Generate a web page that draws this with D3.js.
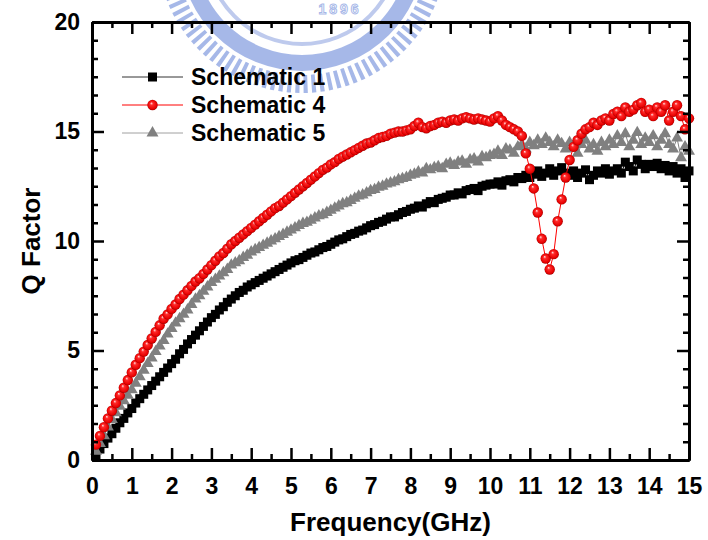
<!DOCTYPE html>
<html>
<head>
<meta charset="utf-8">
<script src="https://cdn.jsdelivr.net/npm/d3@7"></script>
<style>
  html, body { margin: 0; padding: 0; background: #fff; }
  text { font-family: "Liberation Sans", Arial, sans-serif; font-weight: bold; }
</style>
</head>
<body>
<div id="chart"></div>
<script>
// Frequency sweep: 0.1 GHz to 15 GHz, one point every 0.1 GHz.
const freqStart = 0.1;
const freqStep = 0.1;

// Schematic 1 (black squares).
const schematic1 = [
  0.25, 0.5, 0.75, 1.0, 1.2, 1.45, 1.7, 1.9, 2.15, 2.35,
  2.6, 2.8, 3.0, 3.2, 3.4, 3.6, 3.8, 4.0, 4.2, 4.4,
  4.6, 4.85, 5.05, 5.3, 5.5, 5.7, 5.9, 6.1, 6.3, 6.5,
  6.65, 6.85, 7.0, 7.2, 7.35, 7.5, 7.65, 7.75, 7.9, 8.0,
  8.1, 8.2, 8.3, 8.4, 8.5, 8.6, 8.7, 8.8, 8.9, 9.0,
  9.1, 9.15, 9.25, 9.35, 9.45, 9.5, 9.6, 9.7, 9.75, 9.85,
  9.95, 10.05, 10.1, 10.2, 10.3, 10.35, 10.45, 10.5, 10.6, 10.7,
  10.75, 10.85, 10.9, 11.0, 11.1, 11.1, 11.2, 11.3, 11.35, 11.45,
  11.5, 11.6, 11.55, 11.7, 11.8, 11.75, 11.9, 11.95, 12.0, 12.1,
  12.1, 12.2, 12.15, 12.3, 12.35, 12.4, 12.3, 12.5, 12.55, 12.6,
  12.6, 12.7, 12.55, 12.75, 12.8, 12.7, 12.9, 12.85, 13.0, 12.9,
  13.05, 13.2, 12.95, 13.1, 13.3, 13.0, 13.2, 13.35, 13.1, 13.0,
  13.2, 12.9, 13.1, 13.25, 12.8, 13.0, 13.2, 13.1, 13.3, 13.05,
  13.2, 13.3, 13.1, 13.6, 13.4, 13.2, 13.7, 13.5, 13.3, 13.5,
  13.4, 13.55, 13.3, 13.45, 13.2, 13.4, 13.1, 13.3, 12.9, 13.2
];

// Schematic 4 (red balls), with the notch near 11.5 GHz.
const schematic4 = [
  0.7, 1.1, 1.5, 1.9, 2.25, 2.6, 2.95, 3.3, 3.65, 4.0,
  4.35, 4.65, 4.95, 5.25, 5.55, 5.85, 6.15, 6.45, 6.65, 6.9,
  7.1, 7.35, 7.55, 7.75, 7.95, 8.15, 8.3, 8.5, 8.7, 8.9,
  9.1, 9.3, 9.45, 9.65, 9.85, 10.0, 10.15, 10.3, 10.45, 10.6,
  10.75, 10.9, 11.05, 11.2, 11.35, 11.5, 11.6, 11.75, 11.9, 12.05,
  12.2, 12.35, 12.5, 12.65, 12.8, 12.95, 13.1, 13.25, 13.35, 13.5,
  13.6, 13.75, 13.85, 13.95, 14.05, 14.15, 14.25, 14.35, 14.45, 14.5,
  14.6, 14.7, 14.75, 14.8, 14.9, 14.95, 15.0, 15.0, 15.05, 15.1,
  15.25, 15.4, 15.2, 15.15, 15.25, 15.3, 15.4, 15.45, 15.4, 15.5,
  15.55, 15.5, 15.6, 15.65, 15.6, 15.55, 15.6, 15.55, 15.5, 15.45,
  15.6, 15.7, 15.5, 15.3, 15.2, 15.1, 15.0, 14.8, 14.0, 13.3,
  12.4, 11.3, 10.1, 9.2, 8.7, 9.4, 10.9, 11.9, 12.9, 13.7,
  14.3, 14.6, 14.9, 15.1, 15.2, 15.4, 15.3, 15.5, 15.6, 15.5,
  15.8, 15.9, 15.7, 16.1, 15.9, 16.0, 16.2, 16.3, 15.9, 16.0,
  15.7, 16.1, 15.9, 16.2, 15.5, 15.9, 16.2, 15.7, 15.1, 15.6
];

// Schematic 5 (gray triangles).
const schematic5 = [
  0.4, 0.75, 1.1, 1.5, 1.85, 2.15, 2.45, 2.7, 2.95, 3.2,
  3.5, 3.8, 4.1, 4.4, 4.65, 4.95, 5.2, 5.45, 5.75, 6.0,
  6.25, 6.45, 6.65, 6.85, 7.1, 7.35, 7.5, 7.7, 7.9, 8.1,
  8.25, 8.4, 8.55, 8.7, 8.9, 9.0, 9.1, 9.25, 9.35, 9.5,
  9.6, 9.7, 9.8, 9.9, 10.0, 10.1, 10.2, 10.3, 10.4, 10.5,
  10.6, 10.7, 10.8, 10.85, 10.95, 11.05, 11.15, 11.2, 11.3, 11.4,
  11.5, 11.6, 11.7, 11.75, 11.85, 11.95, 12.05, 12.1, 12.2, 12.3,
  12.35, 12.45, 12.5, 12.6, 12.65, 12.7, 12.8, 12.85, 12.9, 13.0,
  13.05, 13.15, 13.1, 13.3, 13.25, 13.35, 13.4, 13.3, 13.5, 13.55,
  13.45, 13.6, 13.65, 13.5, 13.7, 13.75, 13.6, 13.85, 13.8, 13.9,
  13.95, 14.1, 13.9, 14.2, 14.15, 14.0, 14.3, 14.4, 14.2, 14.5,
  14.35, 14.6, 14.4, 14.7, 14.5, 14.3, 14.6, 14.45, 14.2, 14.5,
  14.3, 14.0, 14.4, 14.6, 14.2, 14.4, 14.1, 14.5, 14.3, 14.6,
  14.4, 14.8, 14.5, 14.9, 14.3, 14.6, 14.95, 14.4, 14.7, 14.5,
  14.8, 14.3, 14.6, 14.9, 14.4, 14.2, 14.7, 13.8, 14.3, 14.1
];

const seriesNames = ["Schematic 1", "Schematic 4", "Schematic 5"];
const xTicks = d3.range(0, 16, 1);
const yTicks = [0, 5, 10, 15, 20];

// Chart size and margins.
const totalWidth = 708, totalHeight = 540;
const margin = { top: 22, right: 19, bottom: 80, left: 92 };
const width = totalWidth - margin.left - margin.right;
const height = totalHeight - margin.top - margin.bottom;

const root = d3.select("#chart").append("svg")
  .attr("width", totalWidth)
  .attr("height", totalHeight);

// Shaded ball used for the red markers.
const grad = root.append("defs").append("radialGradient")
  .attr("id", "ball")
  .attr("cx", "50%").attr("cy", "50%").attr("r", "50%")
  .attr("fx", "38%").attr("fy", "32%");
grad.append("stop").attr("offset", "0%").attr("stop-color", "#ffe6e6");
grad.append("stop").attr("offset", "30%").attr("stop-color", "#ff2a2a");
grad.append("stop").attr("offset", "85%").attr("stop-color", "#e60000");
grad.append("stop").attr("offset", "100%").attr("stop-color", "#a00000");

// Faint seal watermark at the top.
const seal = root.append("g").attr("opacity", 0.55);
seal.append("circle")
  .attr("cx", 302).attr("cy", -52).attr("r", 136)
  .attr("fill", "none")
  .attr("stroke", "#5f7fd6")
  .attr("stroke-width", 18)
  .attr("stroke-dasharray", "4 4");
seal.append("circle")
  .attr("cx", 302).attr("cy", -52).attr("r", 115)
  .attr("fill", "none")
  .attr("stroke", "#5f7fd6")
  .attr("stroke-width", 16);
seal.append("circle")
  .attr("cx", 302).attr("cy", -52).attr("r", 96)
  .attr("fill", "none")
  .attr("stroke", "#8aa0e0")
  .attr("stroke-width", 4);
seal.append("text")
  .attr("x", 340).attr("y", 14)
  .attr("text-anchor", "middle")
  .style("font-size", "14px")
  .style("letter-spacing", "3px")
  .attr("fill", "#ffffff")
  .attr("stroke", "#5f7fd6")
  .attr("stroke-width", 1)
  .text("1896");

const svg = root.append("g")
  .attr("transform", `translate(${margin.left}, ${margin.top})`);

// Scales.
const x = d3.scaleLinear().domain([0, 15]).range([0, width]);
const y = d3.scaleLinear().domain([0, 20]).range([height, 0]);

const freq = schematic1.map((d, i) => +(freqStart + i * freqStep).toFixed(2));
const rows = (vals) => vals.map((v, i) => ({ f: freq[i], q: v }));

const line = d3.line().x(d => x(d.f)).y(d => y(d.q));

// Series: black squares, gray triangles, then red balls on top.
const s1 = rows(schematic1), s4 = rows(schematic4), s5 = rows(schematic5);

svg.append("path").datum(s1)
  .attr("d", line).attr("fill", "none").attr("stroke", "#000").attr("stroke-width", 1);
svg.append("g").selectAll("rect")
  .data(s1).enter().append("rect")
  .attr("x", d => x(d.f) - 4.5)
  .attr("y", d => y(d.q) - 4.5)
  .attr("width", 9).attr("height", 9)
  .attr("fill", "#000");

const tri = d3.symbol().type(d3.symbolTriangle).size(62);
svg.append("path").datum(s5)
  .attr("d", line).attr("fill", "none").attr("stroke", "#808080").attr("stroke-width", 1);
svg.append("g").selectAll("path")
  .data(s5).enter().append("path")
  .attr("d", tri)
  .attr("transform", d => `translate(${x(d.f)}, ${y(d.q)})`)
  .attr("fill", "#808080");

svg.append("path").datum(s4)
  .attr("d", line).attr("fill", "none").attr("stroke", "#ff0000").attr("stroke-width", 1);
svg.append("g").selectAll("circle")
  .data(s4).enter().append("circle")
  .attr("cx", d => x(d.f))
  .attr("cy", d => y(d.q))
  .attr("r", 5.2)
  .attr("fill", "url(#ball)");

// Axes: ticks point inward, major and minor, on all four sides.
const axisStyle = g => {
  g.select(".domain").attr("stroke", "#000").attr("stroke-width", 3);
  g.selectAll(".tick line").attr("stroke", "#000").attr("stroke-width", 2.5);
};
const xMinor = d3.range(0.5, 15, 1);
const yMinor = d3.range(0, 20.01, 5 / 6).filter(v => Math.abs(v / 5 - Math.round(v / 5)) > 0.01);

svg.append("g").attr("transform", `translate(0, ${height})`)
  .call(d3.axisBottom(x).tickValues(xMinor).tickSize(-6).tickSizeOuter(0).tickFormat(""))
  .call(axisStyle);
svg.append("g").attr("transform", `translate(0, ${height})`)
  .call(d3.axisBottom(x).tickValues(xTicks).tickSize(-12).tickSizeOuter(0).tickPadding(18))
  .call(axisStyle)
  .selectAll("text").style("font-size", "23px").attr("fill", "#000");

svg.append("g")
  .call(d3.axisTop(x).tickValues(xMinor).tickSize(-6).tickSizeOuter(0).tickFormat(""))
  .call(axisStyle);
svg.append("g")
  .call(d3.axisTop(x).tickValues(xTicks).tickSize(-12).tickSizeOuter(0).tickFormat(""))
  .call(axisStyle);

svg.append("g")
  .call(d3.axisLeft(y).tickValues(yMinor).tickSize(-6).tickSizeOuter(0).tickFormat(""))
  .call(axisStyle);
svg.append("g")
  .call(d3.axisLeft(y).tickValues(yTicks).tickSize(-12).tickSizeOuter(0).tickPadding(12))
  .call(axisStyle)
  .selectAll("text").style("font-size", "23px").attr("fill", "#000");

svg.append("g").attr("transform", `translate(${width}, 0)`)
  .call(d3.axisRight(y).tickValues(yMinor).tickSize(-6).tickSizeOuter(0).tickFormat(""))
  .call(axisStyle);
svg.append("g").attr("transform", `translate(${width}, 0)`)
  .call(d3.axisRight(y).tickValues(yTicks).tickSize(-12).tickSizeOuter(0).tickFormat(""))
  .call(axisStyle);

// Axis titles.
svg.append("text")
  .attr("x", width / 2)
  .attr("y", height + 71)
  .attr("text-anchor", "middle")
  .style("font-size", "26px")
  .text("Frequency(GHz)");

svg.append("text")
  .attr("transform", "rotate(-90)")
  .attr("x", -height / 2)
  .attr("y", -52)
  .attr("text-anchor", "middle")
  .style("font-size", "26px")
  .text("Q Factor");

// Legend.
const legend = svg.append("g").attr("transform", "translate(30, 55)");
const legendColors = ["#333333", "#ff0000", "#a0a0a0"];

legend.selectAll("line")
  .data(seriesNames).enter().append("line")
  .attr("x1", 0).attr("x2", 61)
  .attr("y1", (d, i) => i * 28).attr("y2", (d, i) => i * 28)
  .attr("stroke", (d, i) => legendColors[i])
  .attr("stroke-width", 1);

legend.append("rect")
  .attr("x", 26).attr("y", -4.5).attr("width", 9).attr("height", 9).attr("fill", "#000");
legend.append("circle")
  .attr("cx", 30.5).attr("cy", 28).attr("r", 5.2).attr("fill", "url(#ball)");
legend.append("path")
  .attr("d", tri)
  .attr("transform", "translate(30.5, 56)")
  .attr("fill", "#808080");

legend.selectAll("text")
  .data(seriesNames).enter().append("text")
  .attr("x", 69)
  .attr("y", (d, i) => i * 28)
  .attr("dy", "0.36em")
  .style("font-size", "23px")
  .text(d => d);
</script>
</body>
</html>
